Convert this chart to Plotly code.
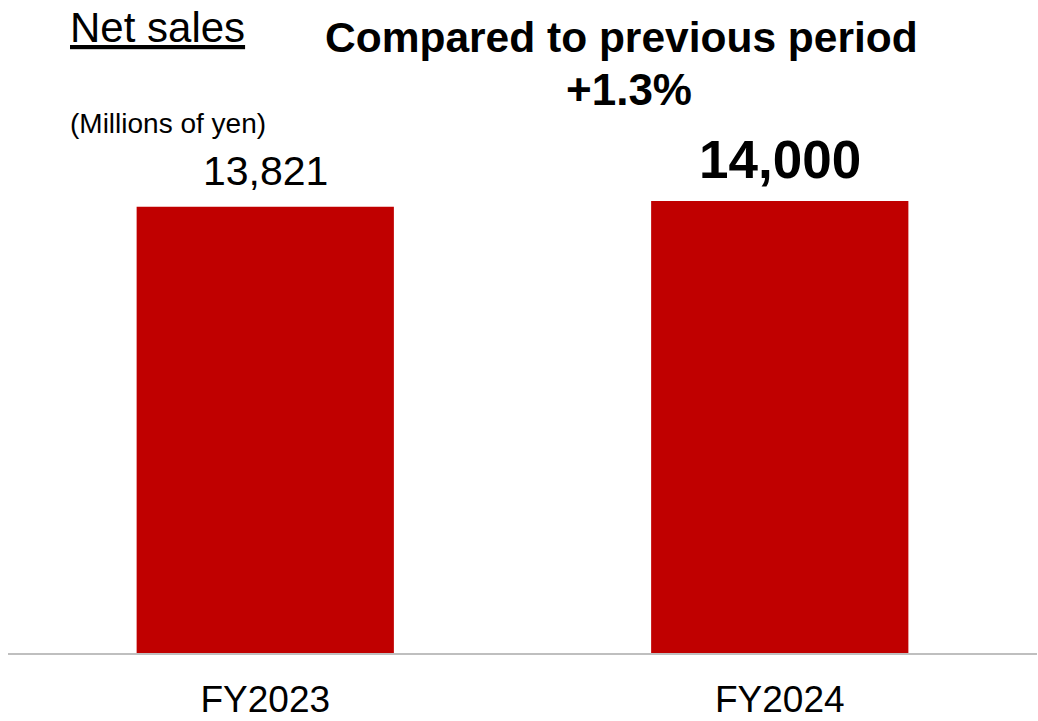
import plotly.graph_objects as go

categories = ["FY2023", "FY2024"]
net_sales = [13821, 14000]
value_labels = ["13,821", "<b>14,000</b>"]
label_sizes = [41, 53]
label_shift = [36, 42]

FONT = "Liberation Sans, Arial, sans-serif"
BAR_COLOR = "#C00000"

W, H = 1038, 721
ML, MR, MT, MB = 8, 1, 0, 68
PW = W - ML - MR
PH = H - MT - MB


def px(x):
    return (x - ML) / PW


def py(y):
    return (H - MB - y) / PH


fig = go.Figure()
fig.add_trace(go.Bar(
    x=categories, y=net_sales, marker_color=BAR_COLOR, marker_line_width=0,
    hoverinfo="skip",
))

annotations = []
for c, v, t, s, sh in zip(categories, net_sales, value_labels, label_sizes, label_shift):
    annotations.append(dict(
        x=c, y=v, xref="x", yref="y", text=t, showarrow=False,
        xanchor="center", yanchor="middle", yshift=sh,
        font=dict(family=FONT, size=s, color="black"),
    ))

annotations += [
    dict(x=px(68), y=py(28), xref="paper", yref="paper", text="<u>Net sales</u>",
         showarrow=False, xanchor="left", yanchor="middle",
         font=dict(family=FONT, size=42, color="black")),
    dict(x=px(621), y=py(38), xref="paper", yref="paper", text="<b>Compared to previous period</b>",
         showarrow=False, xanchor="center", yanchor="middle",
         font=dict(family=FONT, size=42.5, color="black")),
    dict(x=px(629), y=py(89), xref="paper", yref="paper", text="<b>+1.3%</b>",
         showarrow=False, xanchor="center", yanchor="middle",
         font=dict(family=FONT, size=44, color="black")),
    dict(x=px(68), y=py(124), xref="paper", yref="paper", text="(Millions of yen)",
         showarrow=False, xanchor="left", yanchor="middle",
         font=dict(family=FONT, size=28, color="black")),
]

fig.update_layout(
    width=W, height=H,
    margin=dict(l=ML, r=MR, t=MT, b=MB, pad=0),
    paper_bgcolor="white", plot_bgcolor="white",
    bargap=0.5,
    showlegend=False,
    annotations=annotations,
    xaxis=dict(
        showline=True, linecolor="#BFBFBF", linewidth=1.5,
        ticks="", showgrid=False, zeroline=False,
        ticklabelstandoff=13,
        tickfont=dict(family=FONT, size=37, color="black"),
        fixedrange=True,
    ),
    yaxis=dict(
        range=[0, 14000 * PH / 452], visible=False, showgrid=False,
        zeroline=False, fixedrange=True,
    ),
)

fig.write_html(
    "out.html",
    config={"displayModeBar": False},
    post_script="document.body.style.margin='0';document.body.style.overflow='hidden';",
)
